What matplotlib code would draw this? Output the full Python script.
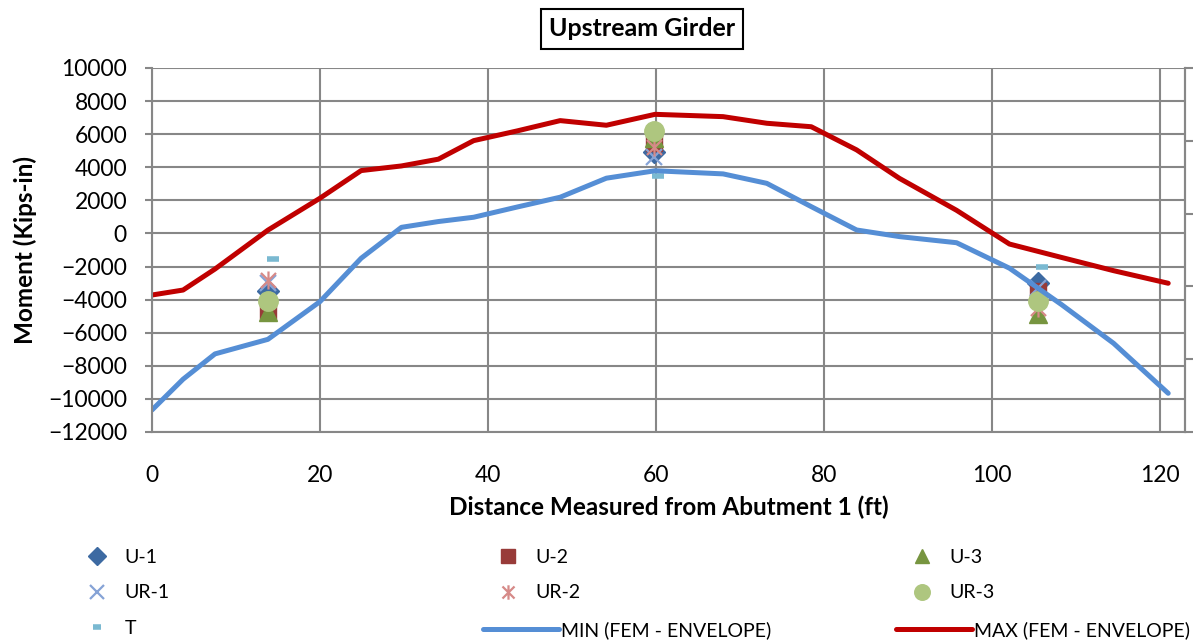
import matplotlib
matplotlib.use("Agg")
import matplotlib.pyplot as plt
from matplotlib.path import Path

plt.rcParams['font.family'] = ['Lato', 'DejaVu Sans']

# FEM envelope (ft, kips-in)
x_fem = [0, 3.7, 7.5, 13.8, 20.0, 24.9, 29.7, 34.1, 38.3, 43.5, 48.6, 54.1,
         59.9, 68.0, 73.2, 78.5, 83.9, 89.0, 95.8, 102.1, 108.3, 114.5, 121.0]
env_max = [-3720, -3420, -2150, 200, 2130, 3800, 4080, 4490, 5610, 6200, 6820, 6540,
           7200, 7060, 6660, 6450, 5050, 3330, 1400, -640, -1450, -2250, -3010]
env_min = [-10670, -8810, -7280, -6400, -4120, -1500, 370, 720, 980, 1600, 2190, 3340,
           3790, 3600, 3030, 1620, 210, -190, -560, -2100, -4300, -6640, -9660]

# measured moments at the three gauge locations
x_gauge = [13.85, 59.8, 105.5]
u1 = [-3500, 4950, -3000]
u2 = [-4700, 5450, -3500]
u3 = [-4750, 5750, -4850]
ur1 = [-3000, 4620, -3300]
ur2 = [-2800, 5250, -4500]
ur3 = [-4100, 6210, -4100]
x_t = [14.4, 60.3, 106.0]
t_vals = [-1550, 3500, -2000]

grid_c = '#878787'

fig = plt.figure(figsize=(11.93, 6.44), dpi=100)
ax = fig.add_axes([152 / 1193, 1 - 432 / 644, 1033 / 1193, 364 / 644])

star = Path([(-1, -1), (1, 1), (-1, 1), (1, -1), (0, -1.2), (0, 1.2)],
            [Path.MOVETO, Path.LINETO, Path.MOVETO, Path.LINETO, Path.MOVETO, Path.LINETO])

h_u1, = ax.plot(x_gauge, u1, 'D', color='#3D6AA2', ms=11, ls='none', label='U-1')
h_u2, = ax.plot(x_gauge, u2, 's', color='#983B39', ms=12, ls='none', label='U-2')
h_u3, = ax.plot(x_gauge, u3, '^', color='#779540', ms=13, ls='none', label='U-3')
h_ur1, = ax.plot(x_gauge, ur1, 'x', color='#86A3D6', ms=12, mew=1.6, ls='none', label='UR-1')
h_ur2, = ax.plot(x_gauge, ur2, marker=star, color='#D68A88', ms=13, mew=1.6, ls='none', label='UR-2')
h_ur3, = ax.plot(x_gauge, ur3, 'o', color='#AEC67F', ms=14, ls='none', label='UR-3')
h_t, = ax.plot(x_t, t_vals, '_', color='#7AB9D1', ms=8, mew=4, ls='none', label='T')
h_min, = ax.plot(x_fem, env_min, color='#558ED5', lw=3.6, solid_capstyle='round',
                 label='MIN (FEM - ENVELOPE)')
h_max, = ax.plot(x_fem, env_max, color='#C00000', lw=3.6, solid_capstyle='round',
                 label='MAX (FEM - ENVELOPE)')

ax.set_xlim(0, 123)
ax.set_ylim(-12000, 10000)
ax.set_xticks(range(0, 121, 20))
ax.set_yticks(range(-12000, 10001, 2000))
ax.grid(True, color=grid_c, lw=1.5)
ax.set_axisbelow(True)
ax.tick_params(axis='x', length=0, pad=24, labelsize=16.5)
ax.tick_params(axis='y', length=5, width=1.5, color=grid_c, pad=13, labelsize=16.5)
for side in ['left', 'bottom', 'right']:
    ax.spines[side].set_color(grid_c)
    ax.spines[side].set_linewidth(1.5)
ax.spines['top'].set_visible(False)

ax.set_xlabel('Distance Measured from Abutment 1 (ft)', fontsize=17.5, fontweight='bold')
ax.set_ylabel('Moment (Kips-in)', fontsize=17.5, fontweight='bold')
ax.xaxis.set_label_coords(0.5, -0.175)
ax.yaxis.set_label_coords(-0.1115, 0.5)

# unlabelled secondary axis ticks on the right
ax2 = ax.twinx()
ax2.set_ylim(0, 5)
ax2.set_yticks(range(6))
ax2.tick_params(axis='y', length=6, width=1.5, color=grid_c, labelright=False)
for side in ['left', 'bottom', 'top']:
    ax2.spines[side].set_visible(False)
ax2.spines['right'].set_color(grid_c)
ax2.spines['right'].set_linewidth(1.5)

fig.text(642 / 1193, 1 - 29 / 644, 'Upstream Girder', ha='center', va='center',
         fontsize=18, fontweight='bold',
         bbox=dict(boxstyle='square,pad=0.33', fc='white', ec='black', lw=1.5))

# legend laid out in a 3x3 grid, built from several pieces
leg_kw = dict(frameon=False, fontsize=14, labelspacing=0.95, borderpad=0,
              borderaxespad=0, loc='upper left', markerscale=0.8)
pieces = [([h_u1, h_ur1, h_t], 80, 549, 1.7, 0.6),
          ([h_u2, h_ur2], 491, 549, 1.7, 0.6),
          ([h_min], 483, 621, 3.9, 0.1),
          ([h_u3, h_ur3], 905, 549, 1.7, 0.6),
          ([h_max], 896, 621, 3.9, 0.1)]
for hs, x0, y0, hl, tp in pieces:
    fig.legend(handles=hs, bbox_to_anchor=(x0 / 1193, 1 - y0 / 644),
               handlelength=hl, handletextpad=tp, **leg_kw)

fig.savefig('out.png', dpi=100)
